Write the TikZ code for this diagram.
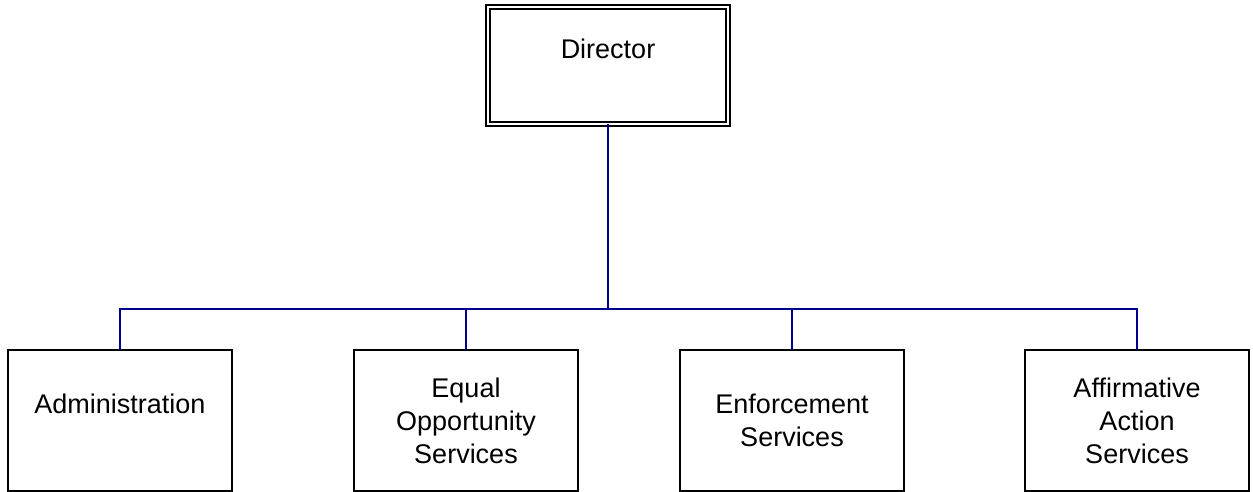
\documentclass[tikz,border=0pt]{standalone}
\usepackage{fontspec}
\setmainfont{Liberation Sans}
\definecolor{linkblue}{RGB}{0,0,140}
\begin{document}
\begin{tikzpicture}[x=1pt,y=1pt,
  unitbox/.style={draw=black,line width=1.5pt,rectangle,inner sep=0pt,outer sep=0pt,
    minimum width=224pt,minimum height=141pt,align=center,
    font=\fontsize{27}{33}\selectfont},
  headbox/.style={unitbox,double=white,line width=1.3pt,double distance=2.7pt,
    minimum width=240pt,minimum height=117pt},
  link/.style={draw=linkblue,line width=1.6pt}]
\useasboundingbox (0,0) rectangle (1253,492);
\node[headbox] (dir) at (608,426.5) {Director\\\mbox{}};
\node[unitbox] (adm) at (120,71.5) {Administration\\\mbox{}};
\node[unitbox] (eqo) at (466,71.5) {Equal\\Opportunity\\Services};
\node[unitbox] (enf) at (792,71.5) {Enforcement\\Services};
\node[unitbox] (aff) at (1137,71.5) {Affirmative\\Action\\Services};
\coordinate (bus) at (608,183);
\draw[link] (dir.south) -- (bus);
\draw[link] (adm.north) |- (bus);
\draw[link] (eqo.north) |- (bus);
\draw[link] (enf.north) |- (bus);
\draw[link] (aff.north) |- (bus);
\end{tikzpicture}
\end{document}
